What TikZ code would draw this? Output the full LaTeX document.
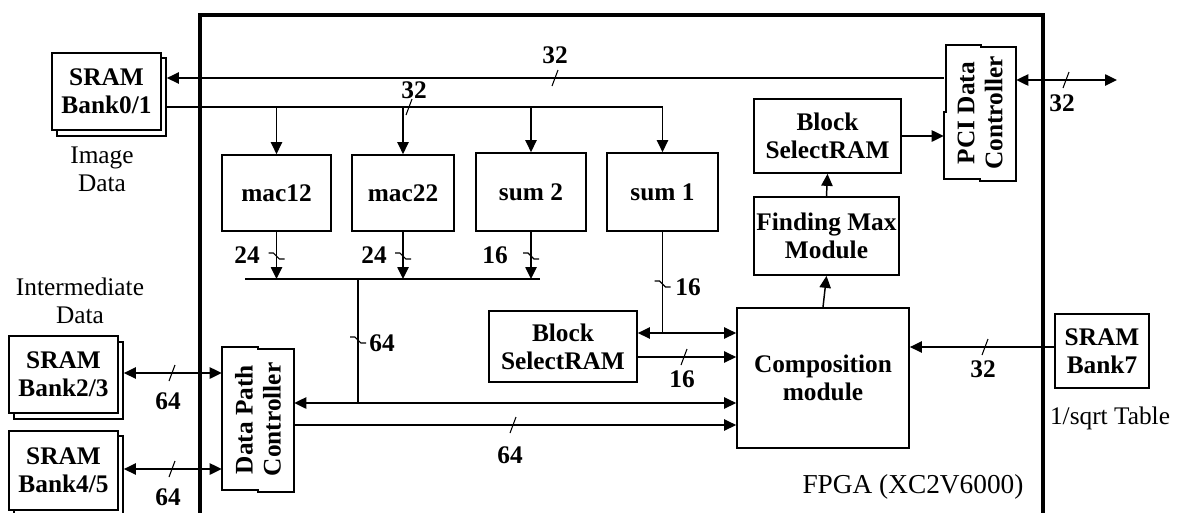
\documentclass[tikz,border=0pt]{standalone}
\usepackage{fontspec}
\setmainfont{Liberation Serif}
\usetikzlibrary{arrows.meta,fit,calc}
\newcommand\myb{\fontsize{19}{21}\selectfont\bfseries}
\newcommand\myn{\fontsize{19}{21}\selectfont}
\newcommand\htick[2]{\draw[tick] (#1-3,#2+8) -- (#1+3,#2-8);}
\newcommand\vtick[2]{\draw[tick] (#1-8,#2-3) -- (#1-3,#2-3) -- (#1+3,#2+3) -- (#1+8,#2+3);}
% \bx[style]{name}{x1}{y1}{x2}{y2}{text}
\newcommand\bx[7][box]{\node[#1, minimum width={(#5-#3)*0.75pt}, minimum height={(#6-#4)*0.75pt}] (#2) at ({(#3+#5)/2},{(#4+#6)/2}) {#7};}
\begin{document}
\begin{tikzpicture}[x=0.75pt,y=-0.75pt,
  box/.style={draw, line width=1.3pt, fill=white, inner sep=0pt, align=center, font=\myb},
  shadowbox/.style={draw, line width=1.3pt, fill=white, inner sep=0pt},
  ghost/.style={inner sep=0pt},
  wire/.style={line width=1.1pt},
  tip/.style={Triangle[length=9pt,width=8.5pt]},
  arr/.style={-{Triangle[length=9pt,width=8.5pt]}},
  darr/.style={{Triangle[length=9pt,width=8.5pt]}-{Triangle[length=9pt,width=8.5pt]}},
  tick/.style={line width=0.8pt},
  lbl/.style={font=\myb, inner sep=0pt},
  txt/.style={font=\myn, inner sep=0pt, align=center},
  frame/.style={line width=2.6pt},
  ctrl/.style={line width=1.3pt, fill=white}]
\useasboundingbox (0,0) rectangle (1192,512);
\clip (0,0) rectangle (1192,512);

% FPGA frame
\draw[frame] (200,520) -- (200,15) -- (1043,15) -- (1043,520);
\node[txt, font=\fontsize{20.5}{23}\selectfont] (fpga) at (913,487) {FPGA (XC2V6000)};

% SRAM banks outside
\bx[shadowbox]{s01s}{57}{58}{166}{136}{}
\bx{s01}{52}{53}{161}{130}{SRAM\\Bank0/1}
\node[txt] (imgd) at (102,169) {Image\\Data};

\node[txt] (intd) at (80,301) {Intermediate\\Data};
\bx[shadowbox]{s23s}{14}{342}{123}{419}{}
\bx{s23}{9}{336}{118}{413}{SRAM\\Bank2/3}
\bx[shadowbox]{s45s}{14}{436}{123}{516}{}
\bx{s45}{9}{431}{118}{510}{SRAM\\Bank4/5}

\bx{s7}{1055}{314}{1149}{388}{SRAM\\Bank7}
\node[txt] (sqrt) at (1110,418) {1/sqrt Table};

% inner blocks
\bx{mac12}{222}{155}{331}{231}{mac12}
\bx{mac22}{352}{155}{454}{231}{mac22}
\bx{sum2}{476}{153}{586}{231}{sum 2}
\bx{sum1}{607}{153}{718}{231}{sum 1}
\bx{bsr1}{754}{99}{901}{173}{Block\\SelectRAM}
\bx{fmax}{754}{197}{899}{275}{Finding Max\\Module}
\bx{bsr2}{489}{311}{637}{382}{Block\\SelectRAM}
\bx{comp}{737}{308}{909}{448}{Composition\\module}

% PCI data controller (stepped outline)
\draw[ctrl] (946,45) -- (981,45) -- (981,47) -- (1016,47) -- (1016,181) -- (980,181) -- (980,179) -- (944,179) -- (944,112) -- (946,112) -- cycle;
\bx[ghost]{pci}{944}{45}{1016}{181}{}
\node[lbl, rotate=90, align=center] (pcit) at (pci.center) {PCI Data\\Controller};

% Data path controller (stepped outline)
\draw[ctrl] (222,347) -- (258,347) -- (258,349) -- (294,349) -- (294,492) -- (258,492) -- (258,490) -- (222,490) -- cycle;
\bx[ghost]{dpc}{222}{347}{294}{492}{}
\node[lbl, rotate=90, align=center] (dpct) at (dpc.center) {Data Path\\Controller};

% top 32 line: PCI -> SRAM0/1
\draw[wire, arr] (pci.west |- 0,78) -- (s01s.east |- 0,78);
\htick{555}{78}
\node[lbl] at (555,55) {32};

% second line: SRAM0/1 -> mac/sum
\coordinate (bus1r) at (sum1.north |- 0,107);
\draw[wire] (s01s.east |- 0,107) -- (bus1r);
\draw[wire, arr] (mac12.north |- 0,107) -- (mac12.north);
\draw[wire, arr] (mac22.north |- 0,107) -- (mac22.north);
\draw[wire, arr] (sum2.north |- 0,107) -- (sum2.north);
\draw[wire, arr] (bus1r) -- (sum1.north);
\htick{409}{107}
\node[lbl] at (414,90) {32};

% PCI external 32
\coordinate (pcix) at (1117,80);
\draw[wire, darr] (pci.east |- 0,80) -- (pcix);
\htick{1066}{80}
\node[lbl] at (1062,103) {32};

% outputs of mac/sum to bus
\coordinate (bus2l) at (245,279);
\coordinate (bus2r) at (540,279);
\draw[wire] (bus2l) -- (bus2r);
\draw[wire, arr] (mac12.south) -- (mac12.south |- bus2l);
\draw[wire, arr] (mac22.south) -- (mac22.south |- bus2l);
\draw[wire, arr] (sum2.south) -- (sum2.south |- bus2l);
\vtick{276.5}{256}
\vtick{403}{256}
\vtick{531}{256}
\node[lbl] at (247,255) {24};
\node[lbl] at (374,255) {24};
\node[lbl] at (495,255) {16};

% bus to data path line
\coordinate (j64) at (358,403);
\draw[wire] (358,279) -- (j64);
\vtick{358}{340}
\node[lbl] at (382,343) {64};
\draw[wire, darr] (dpc.east |- j64) -- (comp.west |- j64);

% sum1 down to BSRAM/composition line
\coordinate (j16) at (sum1.south |- 0,333);
\draw[wire] (sum1.south) -- (j16);
\vtick{662.5}{284}
\node[lbl] at (688,287) {16};
\draw[wire, darr] (bsr2.east |- j16) -- (comp.west |- j16);

\draw[wire, arr] (bsr2.east |- 0,357) -- (comp.west |- 0,357);
\htick{684}{357}
\node[lbl] at (682,379) {16};

\draw[wire, arr] (dpc.east |- 0,425) -- (comp.west |- 0,425);
\htick{513}{425}
\node[lbl] at (510,455) {64};

% composition -> finding max -> BSRAM -> PCI
\draw[wire, arr] (comp.north) -- (fmax.south);
\draw[wire, arr] (fmax.north) -- (bsr1.south);
\draw[wire, arr] (bsr1.east) -- (pci.west |- bsr1.east);

% SRAM bank7 -> composition
\draw[wire, arr] (s7.west |- 0,347) -- (comp.east |- 0,347);
\htick{985}{347}
\node[lbl] at (983,369) {32};

% SRAM 2/3 and 4/5 <-> data path controller
\draw[wire, darr] (s23s.east |- 0,373) -- (dpc.west |- 0,373);
\htick{172}{373}
\node[lbl] at (168,401) {64};
\draw[wire, darr] (s45s.east |- 0,469) -- (dpc.west |- 0,469);
\htick{172}{469}
\node[lbl] at (168,497) {64};
\end{tikzpicture}
\end{document}
